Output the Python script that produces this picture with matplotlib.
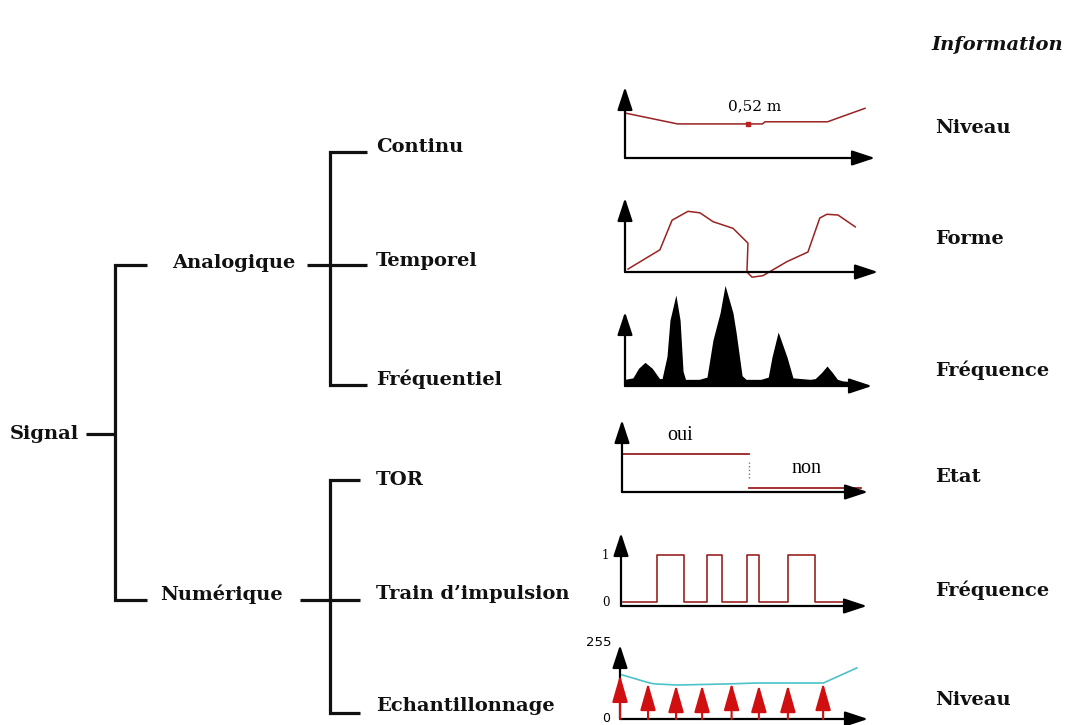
import matplotlib
matplotlib.use("Agg")
import matplotlib.pyplot as plt

W, H = 1068, 725

# --- mini chart data (units: x 0..100 along the arrow, y per chart) ---
# Continu : niveau
continu_x = [0.5, 21, 55, 56, 81, 96]
continu_y = [63, 48, 48, 51, 51, 70]
continu_mark_x = [49]
continu_mark_y = [48]

# Temporel : forme
temporel_x = [1.2, 13.8, 18.6, 24.9, 29.6, 34.8, 42.7, 48.6, 48.2, 50.2,
              54.5, 58.5, 64, 72.3, 77, 79.8, 84.2, 91]
temporel_y = [4, 30, 70, 82, 80, 68, 59, 39, 0, -7,
              -5, 3, 14, 27, 73, 78, 77, 61]

# Fréquentiel : spectre
freq_x = [0, 3.2, 5.5, 8.1, 11, 14, 15, 17, 18.2, 20.6, 22.3, 23.5, 24.5,
          30, 33.2, 35.6, 38.5, 40.5, 43.7, 45, 47.4, 49, 55, 58, 59.5, 62,
          65.6, 68, 75, 77, 79.5, 81.8, 84, 86, 88, 91]
freq_y = [9, 11, 24, 32, 24, 10, 10, 40, 89, 123, 89, 20, 9,
          9, 12, 62, 99, 136, 99, 72, 14, 9, 9, 12, 39, 73,
          39, 11, 9, 10, 18, 27, 18, 9, 7, 6]

# TOR : oui / non
tor_t = [0, 51.6, 97]
tor_level = [53, 5.5]

# Train d'impulsion
pulse_t = [0.8, 14.6, 25.6, 35, 41, 51.2, 56.1, 67.9, 78.9, 90.2]
pulse_v = [0, 1, 0, 1, 0, 1, 0, 1, 0, 0]

# Echantillonnage (0..255)
ech_curve_x = [0.8, 12, 14, 23, 44, 55, 82, 95.5]
ech_curve_y = [152, 124, 121, 117, 121, 124, 124, 176]
ech_sample_x = [0, 11.3, 22.6, 33.1, 45, 56, 67.7, 81.9]
ech_sample_y = [152, 124, 117, 117, 124, 117, 117, 124]

# --- tree labels ---
tree_labels = ["Signal", "Analogique", "Numérique", "Continu", "Temporel",
               "Fréquentiel", "TOR", "Train d’impulsion", "Echantillonnage"]
tree_pos = [(10, 434), (172, 263), (160, 594), (376, 147), (376, 261),
            (376, 379), (376, 480), (376, 594), (376, 706)]
info_labels = ["Niveau", "Forme", "Fréquence", "Etat", "Fréquence", "Niveau"]
info_y = [128, 239, 370, 477, 590, 700]

fig = plt.figure(figsize=(W / 100, H / 100), dpi=100)
bg = fig.add_axes([0, 0, 1, 1])
bg.set_xlim(0, W)
bg.set_ylim(H, 0)
bg.axis("off")

ink = "#111111"
tree_kw = dict(color=ink, lw=2.3, solid_joinstyle="miter", solid_capstyle="butt")
# brackets
bg.plot([147, 115, 115, 147], [265, 265, 600, 600], **tree_kw)
bg.plot([86, 115], [434, 434], **tree_kw)
bg.plot([367, 330, 330, 367], [152, 152, 385, 385], **tree_kw)
bg.plot([307, 367], [265, 265], **tree_kw)
bg.plot([360, 330, 330, 360], [480, 480, 713, 713], **tree_kw)
bg.plot([300, 360], [600, 600], **tree_kw)

for lab, (x, y) in zip(tree_labels, tree_pos):
    bg.text(x, y, lab, family="DejaVu Serif", weight="bold", fontsize=14,
            color=ink, ha="left", va="center")
for lab, y in zip(info_labels, info_y):
    bg.text(935, y, lab, family="DejaVu Serif", weight="bold", fontsize=14,
            color=ink, ha="left", va="center")
bg.text(997, 45, "Information", family="DejaVu Serif", weight="bold",
        style="italic", fontsize=14, color=ink, ha="center", va="center")


def mini_axes(left, top, right, bottom, ylim=(0, 100)):
    ax = fig.add_axes([left / W, 1 - bottom / H, (right - left) / W, (bottom - top) / H])
    ax.set_xlim(0, 100)
    ax.set_ylim(*ylim)
    ax.axis("off")
    kw = dict(arrowstyle="-|>,head_length=1.0,head_width=0.33", color="black",
              lw=1.6, mutation_scale=14, shrinkA=0, shrinkB=0)
    ax.annotate("", xy=(1, 0), xytext=(0, 0), xycoords="axes fraction",
                arrowprops=kw, annotation_clip=False)
    ax.annotate("", xy=(0, 1), xytext=(0, 0), xycoords="axes fraction",
                arrowprops=kw, annotation_clip=False)
    return ax


red = "#9a2222"

# Continu
ax1 = mini_axes(625, 87, 875, 158)
ax1.plot(continu_x, continu_y, color=red, lw=1.1, clip_on=False)
ax1.plot(continu_mark_x, continu_mark_y, "s", color="#c02020", ms=3.5, clip_on=False)
ax1.text(52, 73, "0,52 m", family="DejaVu Serif", fontsize=11, ha="center", va="center")

# Temporel
ax2 = mini_axes(625, 198, 878, 272)
ax2.plot(temporel_x, temporel_y, color=red, lw=1.1, clip_on=False)

# Fréquentiel
ax3 = mini_axes(625, 312, 872, 386)
ax3.fill_between(freq_x, 0, freq_y, color="black", lw=0, clip_on=False)

# TOR
ax4 = mini_axes(622, 420, 868, 492)
ax4.plot(tor_t[:2], [tor_level[0]] * 2, color=red, lw=1.3, clip_on=False)
ax4.plot(tor_t[1:], [tor_level[1]] * 2, color=red, lw=1.3, clip_on=False)
ax4.plot([tor_t[1]] * 2, [19, 42], color="#777777", lw=1, ls=":", clip_on=False)
ax4.text(23.6, 79, "oui", family="Liberation Serif", fontsize=14.5, ha="center", va="center")
ax4.text(75, 33, "non", family="Liberation Serif", fontsize=14.5, ha="center", va="center")

# Train d'impulsion
ax5 = mini_axes(621, 533, 867, 606, ylim=(-0.085, 1.47))
ax5.plot(pulse_t, pulse_v, drawstyle="steps-post", color=red, lw=1.2, clip_on=False)
for v in (0, 1):
    ax5.annotate(str(v), xy=(0, v), xytext=(-11, 0), textcoords="offset points",
                 fontsize=8.5, family="DejaVu Serif", ha="center", va="center")

# Echantillonnage
ax6 = mini_axes(620, 645, 868, 719, ylim=(0, 255))
ax6.plot(ech_curve_x, ech_curve_y, color="#4cc3c8", lw=1.2, clip_on=False)
for x, v in zip(ech_sample_x, ech_sample_y):
    ax6.annotate("", xy=(x, v), xytext=(x, 0),
                 arrowprops=dict(arrowstyle="-|>,head_length=1.4,head_width=0.4",
                                 color="#d01010", lw=1.5, mutation_scale=12,
                                 shrinkA=0, shrinkB=0),
                 annotation_clip=False)
ax6.annotate("255", xy=(0, 255), xytext=(-15, 2), textcoords="offset points",
             fontsize=9.5, ha="center", va="center")
ax6.annotate("0", xy=(0, 0), xytext=(-10, 0), textcoords="offset points",
             fontsize=9, ha="center", va="center")

fig.savefig("out.png", dpi=100, facecolor="white")
